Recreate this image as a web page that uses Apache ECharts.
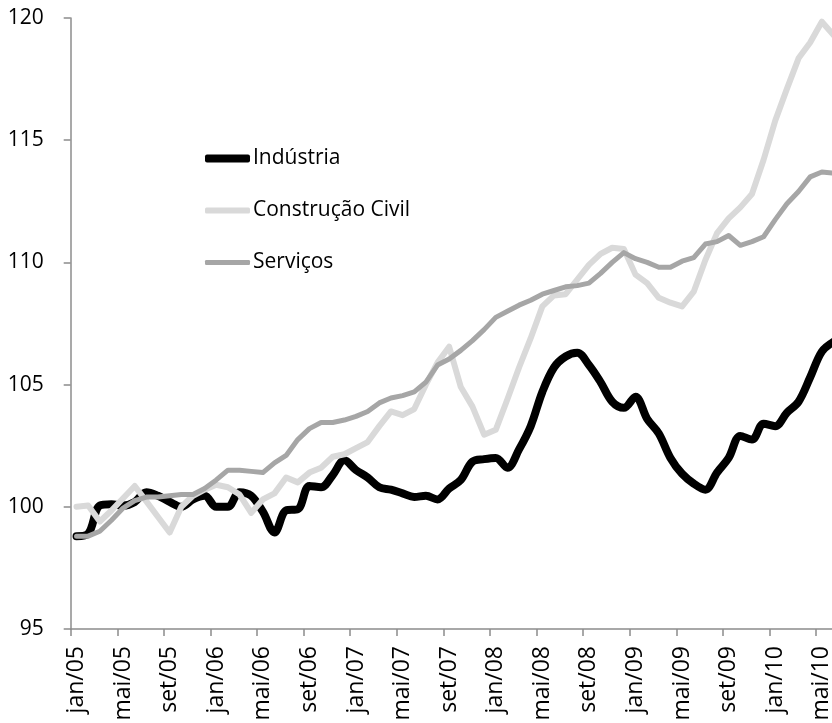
<!DOCTYPE html>
<html>
<head>
<meta charset="utf-8">
<script src="https://cdn.jsdelivr.net/npm/echarts@6/dist/echarts.min.js"></script>
<style>
  html, body { margin: 0; padding: 0; background: #ffffff; }
  #chart { width: 832px; height: 723px; }
</style>
</head>
<body>
<div id="chart"></div>
<script>
// Monthly index (jan/05 = base), jan/05 .. jun/10
const years = ['05', '06', '07', '08', '09', '10'];
const monthNames = ['jan', 'fev', 'mar', 'abr', 'mai', 'jun', 'jul', 'ago', 'set', 'out', 'nov', 'dez'];
const months = [];
years.forEach(function (y) {
  monthNames.forEach(function (m) { months.push(m + '/' + y); });
});
const categories = months.slice(0, 66);

const industria = [
  98.8, 98.9, 100.05, 100.1, 100.05, 100.2, 100.6, 100.45, 100.2, 100.0, 100.3, 100.45,
  100.0, 100.0, 100.6, 100.45, 99.8, 98.95, 99.85, 99.9, 100.85, 100.8, 101.3, 101.9,
  101.5, 101.2, 100.8, 100.7, 100.55, 100.4, 100.45, 100.3, 100.75, 101.1, 101.85, 101.95,
  102.0, 101.6, 102.35, 103.3, 104.7, 105.7, 106.15, 106.3, 105.8, 105.1, 104.3, 104.05,
  104.5, 103.6, 103.0, 102.0, 101.35, 100.95, 100.7, 101.4, 102.0, 102.9, 102.75, 103.4,
  103.3, 103.85, 104.3, 105.3, 106.35, 106.75
];

const construcao = [
  100.0, 100.05, 99.4, 99.85, 100.35, 100.85, 100.22, 99.58, 98.95, 100.0, 100.45, 100.7,
  100.9, 100.8, 100.5, 99.75, 100.3, 100.55, 101.2, 101.0, 101.4, 101.6, 102.05, 102.15,
  102.4, 102.65, 103.3, 103.9, 103.75, 104.0, 105.0, 105.9, 106.55, 104.9, 104.1, 102.95,
  103.15, 104.4, 105.7, 106.9, 108.2, 108.65, 108.7, 109.3, 109.9, 110.35, 110.6, 110.55,
  109.5, 109.15, 108.55, 108.35, 108.2, 108.8, 110.1, 111.2, 111.8, 112.25, 112.8, 114.2,
  115.8, 117.1, 118.35, 119.0, 119.85, 119.3
];

const servicos = [
  98.8, 98.8, 99.0, 99.45, 99.95, 100.25, 100.4, 100.4, 100.45, 100.5, 100.5, 100.75,
  101.1, 101.5, 101.5, 101.45, 101.4, 101.8, 102.1, 102.75, 103.2, 103.45, 103.45, 103.55,
  103.7, 103.9, 104.25, 104.45, 104.55, 104.7, 105.1, 105.8, 106.05, 106.4, 106.8, 107.25,
  107.75, 108.0, 108.25, 108.45, 108.7, 108.85, 109.0, 109.05, 109.15, 109.55, 110.0, 110.4,
  110.15, 110.0, 109.8, 109.8, 110.05, 110.2, 110.75, 110.85, 111.1, 110.7, 110.85, 111.05,
  111.75, 112.4, 112.9, 113.5, 113.7, 113.65
];

const seriesNames = ['Indústria', 'Construção Civil', 'Serviços'];
const yTicks = { min: 95, max: 120, step: 5 };

const FONT = '"Open Sans", "Noto Sans", sans-serif';
const axisGrey = '#8c8c8c';

function legendFor(name, top, height) {
  return {
    data: [{ name: name, icon: 'roundRect' }],
    left: 205,
    top: top,
    orient: 'vertical',
    itemWidth: 45,
    itemHeight: height,
    padding: 0,
    selectedMode: false,
    textStyle: { fontFamily: FONT, fontSize: 21, color: '#000', padding: [0, 0, 0, -2] }
  };
}

const chart = echarts.init(document.getElementById('chart'), null, { renderer: 'canvas' });

chart.setOption({
  animation: false,
  backgroundColor: '#ffffff',
  grid: {
    left: 70.7,
    top: 18,
    right: -7.3,
    bottom: 94,
    containLabel: false,
    outerBoundsMode: 'none'
  },
  legend: [
    legendFor(seriesNames[0], 148, 8),
    legendFor(seriesNames[1], 200, 6),
    legendFor(seriesNames[2], 252, 5)
  ],
  xAxis: {
    type: 'category',
    data: categories,
    boundaryGap: true,
    axisLine: { show: true, lineStyle: { color: axisGrey, width: 1.5 } },
    axisTick: { show: true, interval: 3, length: 7, lineStyle: { color: axisGrey, width: 1.5 } },
    axisLabel: {
      interval: 3,
      rotate: 90,
      margin: 17,
      fontFamily: FONT,
      fontSize: 23,
      color: '#000'
    },
    splitLine: { show: false }
  },
  yAxis: {
    type: 'value',
    min: yTicks.min,
    max: yTicks.max,
    interval: yTicks.step,
    axisLine: { show: true, lineStyle: { color: axisGrey, width: 1.5 } },
    axisTick: { show: true, length: 7, lineStyle: { color: axisGrey, width: 1.5 } },
    axisLabel: { margin: 27, fontFamily: FONT, fontSize: 21, color: '#000' },
    splitLine: { show: false }
  },
  series: [
    {
      name: seriesNames[0],
      type: 'line',
      data: industria,
      symbol: 'none',
      smooth: 0.35,
      color: '#000000',
      lineStyle: { color: '#000000', width: 8, cap: 'round', join: 'round' },
      z: 2
    },
    {
      name: seriesNames[1],
      type: 'line',
      data: construcao,
      symbol: 'none',
      color: '#d9d9d9',
      lineStyle: { color: '#d9d9d9', width: 6, cap: 'round', join: 'round' },
      z: 3
    },
    {
      name: seriesNames[2],
      type: 'line',
      data: servicos,
      symbol: 'none',
      color: '#a6a6a6',
      lineStyle: { color: '#a6a6a6', width: 5, cap: 'round', join: 'round' },
      z: 4
    }
  ]
});
</script>
</body>
</html>
